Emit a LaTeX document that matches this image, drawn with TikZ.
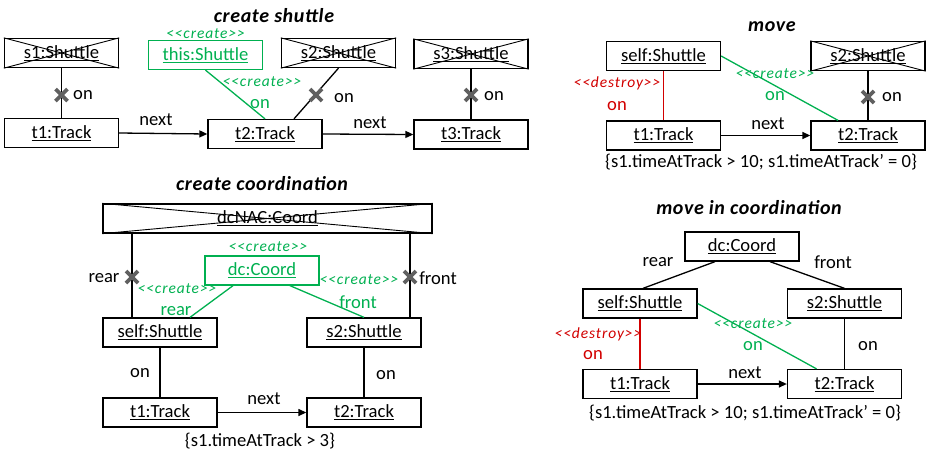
\documentclass[tikz,border=0pt]{standalone}
\usepackage{fontspec}
\setmainfont{Carlito}[Ligatures=TeXOff]
\usetikzlibrary{calc,arrows.meta}
\definecolor{cgreen}{RGB}{0,176,80}
\definecolor{cred}{RGB}{210,0,0}
\definecolor{cgray}{RGB}{96,96,96}
\tikzset{
  obj/.style={draw, line width=1.3pt, minimum width=114pt, minimum height=29pt, inner sep=0pt, font=\fontsize{18.6}{20}\selectfont},
  gobj/.style={obj, draw=cgreen, text=cgreen},
  lbl/.style={inner sep=0pt, font=\fontsize{18.6}{20}\selectfont},
  glbl/.style={lbl, text=cgreen},
  rlbl/.style={lbl, text=cred},
  stereo/.style={inner sep=0pt, font=\fontsize{15.5}{17}\selectfont\itshape\addfontfeatures{LetterSpace=6}},
  gst/.style={stereo, text=cgreen},
  rst/.style={stereo, text=cred},
  ttl/.style={inner sep=0pt, font=\fontsize{20}{22}\selectfont\bfseries\itshape\addfontfeatures{LetterSpace=3}},
  cons/.style={inner sep=0pt, font=\fontsize{18.6}{20}\selectfont},
  link/.style={line width=1.3pt},
  glink/.style={line width=1.3pt, draw=cgreen},
  rlink/.style={line width=1.3pt, draw=cred},
  nextarrow/.style={line width=1.3pt, -{Triangle[length=8pt,width=7pt]}},
  xmark/.style={line width=3.6pt, draw=cgray},
}
\newcommand{\crossout}[1]{\draw[line width=0.9pt] (#1.north west) -- (#1.south east) (#1.south west) -- (#1.north east);}
\newcommand{\grayx}[1]{\draw[xmark] ($(#1)+(-6,-6)$) -- ($(#1)+(6,6)$) ($(#1)+(-6,6)$) -- ($(#1)+(6,-6)$);}
\begin{document}
\begin{tikzpicture}[x=1pt,y=-1pt]
\useasboundingbox (0,0) rectangle (929,453);

% ================= create shuttle =================
\node[ttl] (t_cs) at (274,16) {create shuttle};
\node[obj] (a_s1) at (61.5,53) {\underline{s1:Shuttle}};
\crossout{a_s1}
\node[gobj] (a_this) at (205.5,55) {\underline{this:Shuttle}};
\node[gst] (a_thisst) at (205.5,34) {<<create>>};
\node[obj] (a_s2) at (338.5,53) {\underline{s2:Shuttle}};
\crossout{a_s2}
\node[obj] (a_s3) at (471,54) {\underline{s3:Shuttle}};
\crossout{a_s3}
\node[obj] (a_t1) at (61.5,133) {\underline{t1:Track}};
\node[obj] (a_t2) at (265,134) {\underline{t2:Track}};
\node[obj] (a_t3) at (471,134.5) {\underline{t3:Track}};

\draw[link] (a_s1.south) -- (a_t1.north);
\coordinate (a_x1) at (61.5,95);
\grayx{a_x1}
\node[lbl] (a_on1) at (83,95) {on};

\draw[glink] (a_this.south) -- (a_t2.north);
\node[gst] (a_crst) at (262,82) {<<create>>};
\node[glbl] (a_on2) at (260,104) {on};

\draw[link] (a_s2.south) -- ($(a_t2.north)+(29,0)$);
\coordinate (a_x2) at (316,95);
\grayx{a_x2}
\node[lbl] (a_on3) at (344,98) {on};

\draw[link] (a_s3.south) -- (a_t3.north);
\coordinate (a_x3) at (471,95);
\grayx{a_x3}
\node[lbl] (a_on4) at (494,96) {on};

\draw[nextarrow] (a_t1.east) -- (a_t2.west);
\node[lbl] (a_n1) at (156,120) {next};
\draw[nextarrow] (a_t2.east) -- (a_t3.west);
\node[lbl] (a_n2) at (370,123) {next};

% ================= move =================
\node[ttl] (t_mv) at (772,27) {move};
\node[obj] (b_self) at (663.5,56) {\underline{self:Shuttle}};
\node[obj] (b_s2) at (868,56) {\underline{s2:Shuttle}};
\crossout{b_s2}
\node[obj] (b_t1) at (663.5,135.5) {\underline{t1:Track}};
\node[obj] (b_t2) at (868,135.5) {\underline{t2:Track}};

\draw[rlink] (b_self.south) -- (b_t1.north);
\node[rst] (b_dst) at (617,83) {<<destroy>>};
\node[rlbl] (b_on1) at (617,106) {on};

\draw[glink] (b_self.east) -- ($(b_t2.north)+(-30,0)$);
\node[gst] (b_crst) at (775,74) {<<create>>};
\node[glbl] (b_on2) at (775,96) {on};

\draw[link] (b_s2.south) -- (b_t2.north);
\coordinate (b_x1) at (868,97);
\grayx{b_x1}
\node[lbl] (b_on3) at (892,97) {on};

\draw[nextarrow] (b_t1.east) -- (b_t2.west);
\node[lbl] (b_n1) at (768,124) {next};
\node[cons] (b_cons) at (761,162) {\{s1.timeAtTrack > 10; s1.timeAtTrack’ = 0\}};

% ================= create coordination =================
\node[ttl] (t_cc) at (262,184) {create coordination};
\node[obj, minimum width=329pt] (c_nac) at (267.5,218.5) {\underline{dcNAC:Coord}};
\crossout{c_nac}
\node[gobj] (c_dc) at (262,270.5) {\underline{dc:Coord}};
\node[gst] (c_dcst) at (268,247) {<<create>>};
\node[obj] (c_self) at (160,332.5) {\underline{self:Shuttle}};
\node[obj] (c_s2) at (364,332.5) {\underline{s2:Shuttle}};
\node[obj] (c_t1) at (160,412.5) {\underline{t1:Track}};
\node[obj] (c_t2) at (364,412.5) {\underline{t2:Track}};

\coordinate (c_l) at ($(c_self.north)+(-28,0)$);
\draw[link] (c_l) -- (c_l |- c_nac.south);
\coordinate (c_x1) at (132,277);
\grayx{c_x1}
\node[lbl] (c_rear) at (104,278) {rear};

\coordinate (c_r) at ($(c_s2.north)+(46,0)$);
\draw[link] (c_r) -- (c_r |- c_nac.south);
\coordinate (c_x2) at (410,277);
\grayx{c_x2}
\node[lbl] (c_front) at (438,278) {front};

\draw[glink] ($(c_dc.south)+(-29,0)$) -- ($(c_self.north)+(30,0)$);
\node[gst] (c_crst1) at (177,289) {<<create>>};
\node[glbl] (c_rear2) at (176,311) {rear};
\draw[glink] ($(c_dc.south)+(28,0)$) -- (c_s2.north);
\node[gst] (c_crst2) at (359,280) {<<create>>};
\node[glbl] (c_front2) at (358,302) {front};

\draw[link] (c_self.south) -- (c_t1.north);
\node[lbl] (c_on1) at (140,373) {on};
\draw[link] (c_s2.south) -- (c_t2.north);
\node[lbl] (c_on2) at (386,375) {on};
\draw[nextarrow] (c_t1.east) -- (c_t2.west);
\node[lbl] (c_n1) at (264,399) {next};
\node[cons] (c_cons) at (260,441) {\{s1.timeAtTrack > 3\}};

% ================= move in coordination =================
\node[ttl] (t_mc) at (749,208) {move in coordination};
\node[obj] (d_dc) at (742,246.5) {\underline{dc:Coord}};
\node[obj] (d_self) at (640,303.5) {\underline{self:Shuttle}};
\node[obj] (d_s2) at (844.5,303.5) {\underline{s2:Shuttle}};
\node[obj] (d_t1) at (640,384) {\underline{t1:Track}};
\node[obj] (d_t2) at (844.5,384) {\underline{t2:Track}};

\draw[link] ($(d_dc.south)+(-27,0)$) -- ($(d_self.north)+(3,0)$);
\node[lbl] (d_rear) at (658,262) {rear};
\draw[link] ($(d_dc.south)+(28,0)$) -- (d_s2.north);
\node[lbl] (d_front) at (833,262) {front};

\draw[rlink] (d_self.south) -- (d_t1.north);
\node[rst] (d_dst) at (598,334) {<<destroy>>};
\node[rlbl] (d_on1) at (593,355) {on};

\draw[glink] (d_self.east) -- ($(d_t2.north)+(-28,0)$);
\node[gst] (d_crst) at (753,324) {<<create>>};
\node[glbl] (d_on2) at (753,346) {on};

\draw[link] (d_s2.south) -- (d_t2.north);
\node[lbl] (d_on3) at (868,346) {on};

\draw[nextarrow] (d_t1.east) -- (d_t2.west);
\node[lbl] (d_n1) at (745,373) {next};
\node[cons] (d_cons) at (745,413) {\{s1.timeAtTrack > 10; s1.timeAtTrack’ = 0\}};
\end{tikzpicture}
\end{document}
